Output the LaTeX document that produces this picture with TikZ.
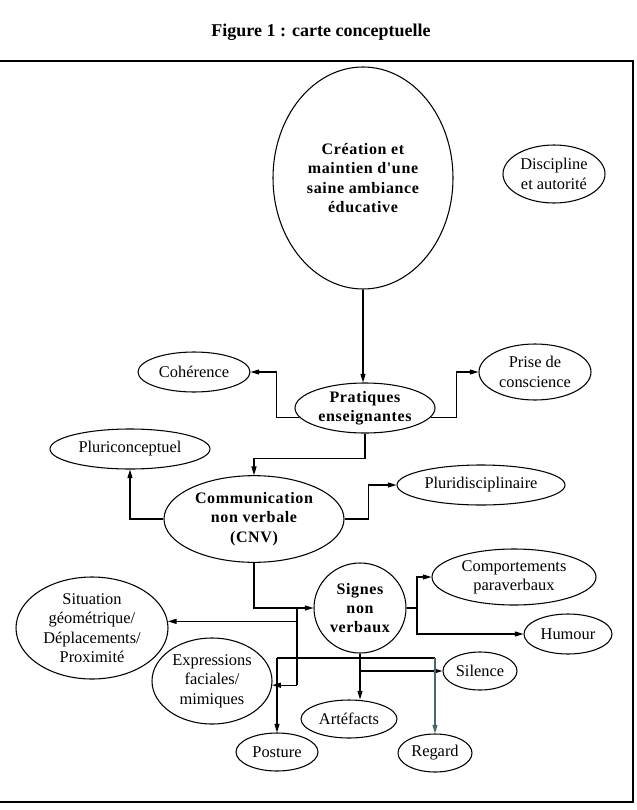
\documentclass[tikz,border=0pt]{standalone}
\usepackage{fontspec}
\setmainfont{Liberation Serif}
\newfontfamily\spacedfont{Liberation Serif}[LetterSpace=4]
\usetikzlibrary{shapes.geometric,arrows.meta}
\definecolor{regardcol}{RGB}{70,105,105}
\tikzset{
  concept/.style={draw, ellipse, inner sep=0pt, line width=0.8pt, align=center,
    font=\fontsize{12.3}{14.5}\selectfont},
  keyc/.style={concept, font=\fontsize{12}{14.5}\selectfont\spacedfont\bfseries},
  sz/.style 2 args={minimum width=#1, minimum height=#2},
  link/.style={line width=0.8pt},
  arr/.style={line width=0.8pt, -{Triangle[length=6.5pt,width=3.8pt]}},
  framecol/.style={line width=1pt},
}
\begin{document}
\begin{tikzpicture}[x=0.75pt,y=-0.75pt]
\useasboundingbox (0,0) rectangle (636,810);
% title and frame
\node[font=\fontsize{13.5}{16}\selectfont\bfseries] (title) at (321,32) {Figure 1 : carte conceptuelle};
\draw[framecol] (0,61) -- (633,61) -- (633,802) -- (0,802);

% nodes
\node[keyc, sz={135pt}{166.5pt}] (creation) at (363,178) {Création et\\maintien d'une\\saine ambiance\\éducative};
\node[concept, sz={76.5pt}{43.5pt}] (discipline) at (554,174) {Discipline\\et autorité};
\node[concept, sz={84pt}{30pt}] (coherence) at (194,372) {Cohérence};
\node[concept, sz={84pt}{42pt}] (prise) at (535,372) {Prise de\\conscience};
\node[keyc, sz={105pt}{37.5pt}] (pratiques) at (365,408) {Pratiques\\enseignantes};
\node[concept, sz={120pt}{30pt}] (pluric) at (130,449) {Pluriconceptuel};
\node[concept, sz={126pt}{30pt}] (plurid) at (481,485) {Pluridisciplinaire};
\node[keyc, sz={135pt}{65pt}] (cnv) at (254,519) {Communication\\non verbale\\(CNV)};
\node[concept, sz={123pt}{42pt}] (comport) at (514,577) {Comportements\\paraverbaux};
\node[keyc, sz={69pt}{67.5pt}] (signes) at (360,608) {Signes\\non\\verbaux};
\node[concept, sz={114pt}{76.5pt}] (situation) at (92,628) {Situation\\géométrique/\\Déplacements/\\Proximité};
\node[concept, sz={66pt}{30pt}] (humour) at (568,634) {Humour};
\node[concept, sz={90pt}{64.5pt}] (expr) at (212,681) {Expressions\\faciales/\\mimiques};
\node[concept, sz={55.5pt}{28.5pt}] (silence) at (480,671) {Silence};
\node[concept, sz={72pt}{28.5pt}] (artefacts) at (349,719) {Artéfacts};
\node[concept, sz={61.5pt}{28.5pt}] (posture) at (277,752) {Posture};
\node[concept, sz={55.5pt}{28.5pt}] (regard) at (435,753) {Regard};

% helper coordinates
\coordinate (bx) at (297,0);
\coordinate (rx) at (417,0);
\coordinate (py) at (0,658);

% connectors
\draw[arr] (creation.south) -- (creation.south |- pratiques.north);
\draw[arr] (pratiques.188) -- ++(-23,0) |- (coherence.east);
\draw[arr] (pratiques.352) -- ++(26,0) |- (prise.west);
\draw[arr] (pratiques.south) -- ++(0,25) -| (cnv.north);
\draw[arr] (cnv.west) -| (pluric.south);
\draw[arr] (cnv.east) -- ++(24,0) |- (plurid.west);
\draw[arr] (cnv.south) |- (signes.west);
\draw[link] (bx |- signes.west) -- (bx |- expr.356);
\draw[arr] (bx |- situation.5) -- (situation.5);
\draw[arr] (bx |- expr.356) -- (expr.356);
\draw[arr] (signes.east) -- (rx |- signes.east) |- (comport.west);
\draw[arr] (rx |- signes.east) |- (humour.west);
\draw[arr] (signes.south) -- (signes.south |- artefacts.north);
\draw[arr] (signes.south |- silence.west) -- (silence.west);
\draw[link] (posture.north |- py) -- (regard.north |- py);
\draw[arr] (posture.north |- py) -- (posture.north);
\draw[arr, draw=regardcol, fill=regardcol] (regard.north |- py) -- (regard.north);
\end{tikzpicture}
\end{document}
